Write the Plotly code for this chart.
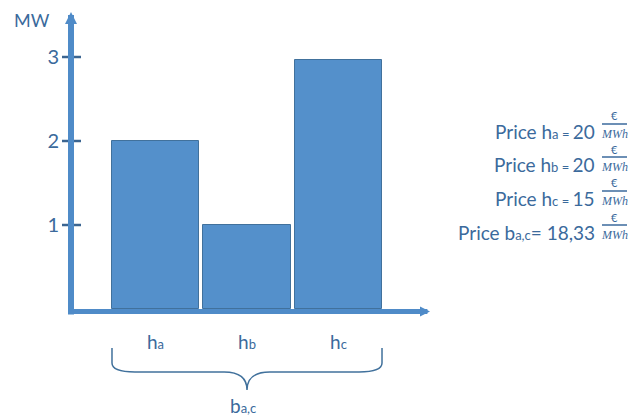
import plotly.graph_objects as go

# ---- data ----
hours = ["a", "b", "c"]                      # hour subscripts
mw_values = [2.0, 1.0, 2.97]                 # MW per hour
prices = ["20", "20", "15"]                  # €/MWh per hour
block_name = "a,c"
block_price = "18,33"
y_ticks = [1, 2, 3]
y_unit = "MW"

FONT = "Lato"
TXT = "#3b6a9c"
W, H = 632, 418
ML, MR, MT, MB = 71, 203, 12, 109
PW, PH = W - ML - MR, H - MT - MB

def px(x):
    return (x - ML) / PW

def py(y):
    return (H - MB - y) / PH

small = '<span style="font-size:13px">%s</span>'

xpos = list(range(len(hours)))
bar_w = 0.951
tick_text = ["h" + small % h for h in hours]

fig = go.Figure()
fig.add_trace(go.Bar(
    x=xpos, y=mw_values, width=bar_w,
    marker=dict(color="#5490cb", line=dict(color="#41719c", width=1)),
    hoverinfo="skip",
))

shapes = []
annotations = []

# y ticks crossing the axis
for t in y_ticks:
    shapes.append(dict(type="line", xref="paper", yref="y",
                       x0=px(62), x1=px(81), y0=t, y1=t,
                       line=dict(color="#3b6591", width=2.5), layer="above"))

# axes with arrows
annotations.append(dict(xref="paper", yref="paper", axref="pixel", ayref="pixel",
                        x=px(71), y=py(12), ax=0, ay=304, text="",
                        showarrow=True, arrowhead=2, arrowsize=0.4, arrowwidth=6,
                        arrowcolor="#4f8bc8"))
annotations.append(dict(xref="paper", yref="paper", axref="pixel", ayref="pixel",
                        x=px(430), y=py(311.5), ax=-362, ay=0, text="",
                        showarrow=True, arrowhead=2, arrowsize=0.4, arrowwidth=5,
                        arrowcolor="#4f8bc8"))

# brace under the bars (x from bar edges)
xl = xpos[0] - bar_w / 2
xr = xpos[-1] + bar_w / 2
xm = (xl + xr) / 2
r = 0.25
yt, yc, yb = py(348), py(372), py(390)
path = (f"M {xl},{yt} L {xl},{yc + 0.03} Q {xl},{yc} {xl + r},{yc} "
        f"L {xm - r},{yc} Q {xm},{yc} {xm},{yb} "
        f"Q {xm},{yc} {xm + r},{yc} L {xr - r},{yc} Q {xr},{yc} {xr},{yc + 0.03} L {xr},{yt}")
shapes.append(dict(type="path", xref="x", yref="paper", path=path,
                   line=dict(color="#41719c", width=1.5)))

annotations.append(dict(xref="x", yref="paper", x=xm - 0.04, y=py(405),
                        xanchor="center", yanchor="middle",
                        text="b" + small % block_name, showarrow=False,
                        font=dict(family=FONT, size=19, color=TXT)))

annotations.append(dict(xref="paper", yref="paper", x=px(32), y=py(20),
                        xanchor="center", yanchor="middle",
                        text=y_unit, showarrow=False,
                        font=dict(family=FONT, size=18, color=TXT)))

# price lines on the right
rows_y = [131, 164, 198, 232]
lines = ["Price h" + small % (h + " = ") + p for h, p in zip(hours, prices)]
lines.append("Price b" + small % block_name + "= " + block_price)
for txt, ry in zip(lines, rows_y):
    annotations.append(dict(xref="paper", yref="paper", x=px(597), y=py(ry),
                            xanchor="right", yanchor="middle", text=txt,
                            showarrow=False,
                            font=dict(family=FONT, size=19, color=TXT)))
    annotations.append(dict(xref="paper", yref="paper", x=px(614.5), y=py(ry - 15),
                            xanchor="center", yanchor="middle",
                            text="€", showarrow=False,
                            font=dict(family=FONT, size=11, color=TXT)))
    annotations.append(dict(xref="paper", yref="paper", x=px(614.5), y=py(ry + 3),
                            xanchor="center", yanchor="middle",
                            text="<i>MWh</i>", showarrow=False,
                            font=dict(family="Liberation Serif", size=12, color=TXT)))
    shapes.append(dict(type="line", xref="paper", yref="paper",
                       x0=px(602), x1=px(627), y0=py(ry - 7), y1=py(ry - 7),
                       line=dict(color=TXT, width=1.5)))

fig.update_layout(
    width=W, height=H,
    margin=dict(l=ML, r=MR, t=MT, b=MB, pad=0),
    paper_bgcolor="white", plot_bgcolor="white",
    showlegend=False,
    bargap=0,
    xaxis=dict(range=[-84.5 / 91.5, -84.5 / 91.5 + PW / 91.5],
               tickvals=xpos, ticktext=tick_text,
               showgrid=False, zeroline=False, showline=False, ticks="",
               ticklabelstandoff=20,
               tickfont=dict(family=FONT, size=19, color=TXT)),
    yaxis=dict(range=[0, PH / 84], tickvals=y_ticks,
               showgrid=False, zeroline=False, showline=False, ticks="",
               ticklabelstandoff=11,
               tickfont=dict(family=FONT, size=20, color=TXT)),
    shapes=shapes, annotations=annotations,
)

fig.write_html("out.html")
